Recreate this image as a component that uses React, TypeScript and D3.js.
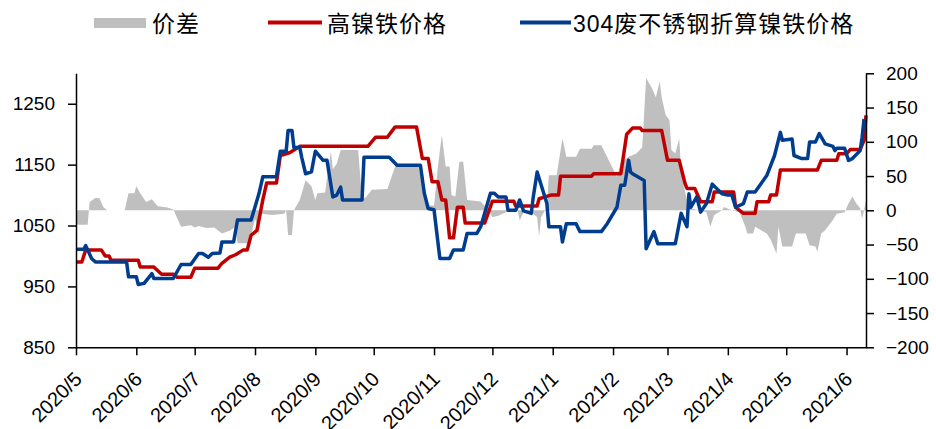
import { useEffect, useRef } from 'react';
import * as d3 from 'd3';

const width = 936;
const height = 429;

// month ticks on the x axis
const monthTicks = [
  '2020-05-01', '2020-06-01', '2020-07-01', '2020-08-01', '2020-09-01', '2020-10-01', '2020-11-01',
  '2020-12-01', '2021-01-01', '2021-02-01', '2021-03-01', '2021-04-01', '2021-05-01', '2021-06-01',
];
const leftTicks = [850, 950, 1050, 1150, 1250];
const rightTicks = [-200, -150, -100, -50, 0, 50, 100, 150, 200];

const legendLabels = ['价差', '高镍铁价格', '304废不锈钢折算镍铁价格'];

// 高镍铁价格 (left axis)
const nickelPigIron: [string, number][] = [
  ['2020-05-01', 990], ['2020-05-04', 990], ['2020-05-06', 1010], ['2020-05-14', 1010], ['2020-05-16', 1000],
  ['2020-05-18', 1000], ['2020-05-19', 993], ['2020-06-02', 993], ['2020-06-03', 982], ['2020-06-10', 982],
  ['2020-06-14', 970], ['2020-06-20', 970], ['2020-06-22', 965], ['2020-06-29', 965], ['2020-07-01', 980],
  ['2020-07-13', 980], ['2020-07-15', 988], ['2020-07-19', 998], ['2020-07-22', 1002], ['2020-07-26', 1010],
  ['2020-07-28', 1010], ['2020-07-30', 1034], ['2020-08-02', 1042], ['2020-08-05', 1092], ['2020-08-07', 1120],
  ['2020-08-12', 1120], ['2020-08-14', 1165], ['2020-08-19', 1170], ['2020-08-24', 1180], ['2020-09-28', 1180],
  ['2020-10-02', 1195], ['2020-10-08', 1195], ['2020-10-12', 1212], ['2020-10-23', 1212], ['2020-10-26', 1160],
  ['2020-10-29', 1160], ['2020-10-31', 1122], ['2020-11-03', 1122], ['2020-11-05', 1092], ['2020-11-07', 1092],
  ['2020-11-09', 1030], ['2020-11-11', 1030], ['2020-11-13', 1080], ['2020-11-16', 1080], ['2020-11-17', 1054],
  ['2020-11-27', 1054], ['2020-12-01', 1090], ['2020-12-12', 1090], ['2020-12-13', 1082], ['2020-12-24', 1082],
  ['2020-12-25', 1094], ['2020-12-31', 1100], ['2021-01-04', 1100], ['2021-01-05', 1131], ['2021-01-21', 1131],
  ['2021-01-22', 1135], ['2021-02-05', 1135], ['2021-02-08', 1200], ['2021-02-11', 1210], ['2021-02-15', 1210],
  ['2021-02-16', 1206], ['2021-02-26', 1206], ['2021-03-01', 1157], ['2021-03-07', 1157], ['2021-03-10', 1119],
  ['2021-03-11', 1111], ['2021-03-15', 1111], ['2021-03-18', 1089], ['2021-03-24', 1089], ['2021-03-25', 1105],
  ['2021-04-04', 1105], ['2021-04-05', 1080], ['2021-04-09', 1070], ['2021-04-15', 1070], ['2021-04-16', 1089],
  ['2021-04-22', 1089], ['2021-04-23', 1100], ['2021-04-26', 1100], ['2021-04-28', 1141], ['2021-05-17', 1141],
  ['2021-05-19', 1157], ['2021-05-27', 1157], ['2021-05-28', 1168], ['2021-06-01', 1168], ['2021-06-03', 1175],
  ['2021-06-08', 1175], ['2021-06-10', 1190], ['2021-06-11', 1231],
];

// 304废不锈钢折算镍铁价格 (left axis)
const scrapNickel: [string, number][] = [
  ['2020-05-01', 1011], ['2020-05-05', 1011], ['2020-05-06', 1017], ['2020-05-09', 996], ['2020-05-11', 990],
  ['2020-05-27', 990], ['2020-05-28', 966], ['2020-06-01', 966], ['2020-06-02', 953], ['2020-06-05', 955],
  ['2020-06-09', 971], ['2020-06-10', 963], ['2020-06-20', 963], ['2020-06-24', 986], ['2020-06-29', 986],
  ['2020-07-03', 1004], ['2020-07-05', 1004], ['2020-07-08', 998], ['2020-07-10', 1004], ['2020-07-14', 1005],
  ['2020-07-15', 1023], ['2020-07-21', 1023], ['2020-07-23', 1059], ['2020-07-30', 1059], ['2020-08-03', 1102],
  ['2020-08-05', 1130], ['2020-08-12', 1130], ['2020-08-14', 1172], ['2020-08-17', 1172], ['2020-08-18', 1206],
  ['2020-08-20', 1206], ['2020-08-21', 1178], ['2020-08-24', 1178], ['2020-08-25', 1162], ['2020-08-27', 1135],
  ['2020-08-30', 1138], ['2020-09-01', 1172], ['2020-09-05', 1157], ['2020-09-07', 1157], ['2020-09-10', 1097],
  ['2020-09-12', 1100], ['2020-09-14', 1113], ['2020-09-15', 1092], ['2020-09-25', 1092], ['2020-09-26', 1162],
  ['2020-10-09', 1162], ['2020-10-13', 1149], ['2020-10-25', 1149], ['2020-10-27', 1103], ['2020-10-29', 1078],
  ['2020-11-01', 1076], ['2020-11-04', 996], ['2020-11-09', 996], ['2020-11-11', 1010], ['2020-11-16', 1010],
  ['2020-11-18', 1037], ['2020-11-23', 1037], ['2020-11-25', 1048], ['2020-11-30', 1103], ['2020-12-02', 1103],
  ['2020-12-04', 1097], ['2020-12-08', 1097], ['2020-12-09', 1075], ['2020-12-13', 1075], ['2020-12-15', 1092],
  ['2020-12-17', 1074], ['2020-12-21', 1070], ['2020-12-22', 1097], ['2020-12-24', 1138], ['2020-12-29', 1086],
  ['2020-12-30', 1048], ['2021-01-05', 1048], ['2021-01-06', 1023], ['2021-01-08', 1053], ['2021-01-13', 1053],
  ['2021-01-15', 1040], ['2021-01-26', 1040], ['2021-01-29', 1053], ['2021-02-03', 1080], ['2021-02-05', 1116],
  ['2021-02-07', 1116], ['2021-02-09', 1157], ['2021-02-10', 1138], ['2021-02-11', 1135], ['2021-02-17', 1124],
  ['2021-02-18', 1012], ['2021-02-22', 1040], ['2021-02-24', 1020], ['2021-03-05', 1020], ['2021-03-08', 1070],
  ['2021-03-11', 1048], ['2021-03-12', 1102], ['2021-03-13', 1080], ['2021-03-16', 1097], ['2021-03-18', 1072],
  ['2021-03-21', 1086], ['2021-03-24', 1118], ['2021-03-29', 1102], ['2021-04-01', 1100], ['2021-04-03', 1100],
  ['2021-04-05', 1080], ['2021-04-09', 1086], ['2021-04-11', 1105], ['2021-04-15', 1105], ['2021-04-21', 1132],
  ['2021-04-25', 1165], ['2021-04-28', 1203], ['2021-04-29', 1190], ['2021-05-04', 1192], ['2021-05-05', 1165],
  ['2021-05-09', 1160], ['2021-05-12', 1160], ['2021-05-13', 1187], ['2021-05-16', 1187], ['2021-05-18', 1201],
  ['2021-05-20', 1190], ['2021-05-21', 1184], ['2021-05-25', 1180], ['2021-05-26', 1173], ['2021-05-27', 1177],
  ['2021-05-31', 1177], ['2021-06-02', 1157], ['2021-06-04', 1160], ['2021-06-08', 1173], ['2021-06-09', 1195],
  ['2021-06-10', 1225],
];

// 价差 (right axis)
const spread: [string, number][] = [
  ['2020-05-01', -21], ['2020-05-07', -21], ['2020-05-08', 12], ['2020-05-11', 18], ['2020-05-13', 18],
  ['2020-05-15', 5], ['2020-05-17', 0], ['2020-05-26', 0], ['2020-05-28', 25], ['2020-05-31', 25],
  ['2020-06-01', 35], ['2020-06-03', 25], ['2020-06-06', 12], ['2020-06-09', 16], ['2020-06-12', 6],
  ['2020-06-17', 4], ['2020-06-20', 1], ['2020-06-24', -24], ['2020-06-29', -22], ['2020-07-01', -25],
  ['2020-07-03', -23], ['2020-07-07', -26], ['2020-07-11', -25], ['2020-07-15', -34], ['2020-07-19', -30],
  ['2020-07-22', -24], ['2020-07-23', -48], ['2020-07-29', -48], ['2020-08-01', -12], ['2020-08-03', -35],
  ['2020-08-04', -5], ['2020-08-10', -7], ['2020-08-16', -5], ['2020-08-17', 0], ['2020-08-18', -36],
  ['2020-08-20', -36], ['2020-08-21', 0], ['2020-08-24', 15], ['2020-08-27', 44], ['2020-08-30', 35],
  ['2020-09-01', 15], ['2020-09-02', 25], ['2020-09-06', 26], ['2020-09-09', 86], ['2020-09-10', 60],
  ['2020-09-12', 68], ['2020-09-14', 88], ['2020-09-23', 88], ['2020-09-25', 17], ['2020-09-27', 19],
  ['2020-09-30', 30], ['2020-10-08', 31], ['2020-10-12', 64], ['2020-10-24', 64], ['2020-10-27', 15],
  ['2020-10-29', 7], ['2020-11-01', 7], ['2020-11-03', 64], ['2020-11-05', 110], ['2020-11-07', 64],
  ['2020-11-09', 64], ['2020-11-10', 22], ['2020-11-12', 20], ['2020-11-14', 71], ['2020-11-16', 71],
  ['2020-11-18', 15], ['2020-11-25', 13], ['2020-11-29', 0], ['2020-12-01', -10], ['2020-12-04', -8],
  ['2020-12-08', -3], ['2020-12-14', 0], ['2020-12-15', -15], ['2020-12-17', -3], ['2020-12-22', -5],
  ['2020-12-24', -10], ['2020-12-25', -38], ['2020-12-26', -10], ['2020-12-29', 5], ['2020-12-30', 51],
  ['2021-01-03', 51], ['2021-01-06', 105], ['2021-01-08', 78], ['2021-01-13', 78], ['2021-01-15', 90],
  ['2021-01-21', 90], ['2021-01-22', 95], ['2021-01-26', 95], ['2021-02-03', 49], ['2021-02-05', 70],
  ['2021-02-09', 78], ['2021-02-13', 83], ['2021-02-16', 92], ['2021-02-18', 193], ['2021-02-21', 178],
  ['2021-02-23', 165], ['2021-02-25', 188], ['2021-02-26', 165], ['2021-02-28', 139], ['2021-03-02', 132],
  ['2021-03-03', 88], ['2021-03-05', 83], ['2021-03-07', 105], ['2021-03-08', 60], ['2021-03-09', 40],
  ['2021-03-11', 15], ['2021-03-13', 3], ['2021-03-17', 0], ['2021-03-21', -3], ['2021-03-23', -24],
  ['2021-03-25', -7], ['2021-03-29', 0], ['2021-03-30', 5], ['2021-04-03', 0], ['2021-04-07', -3],
  ['2021-04-10', -24], ['2021-04-11', -34], ['2021-04-14', -34], ['2021-04-15', -24], ['2021-04-21', -34],
  ['2021-04-23', -43], ['2021-04-26', -63], ['2021-04-27', -24], ['2021-04-29', -53], ['2021-05-04', -53],
  ['2021-05-06', -34], ['2021-05-11', -34], ['2021-05-13', -51], ['2021-05-16', -53], ['2021-05-17', -60],
  ['2021-05-19', -34], ['2021-05-21', -29], ['2021-05-25', -14], ['2021-05-27', -5], ['2021-05-31', -3],
  ['2021-06-02', 10], ['2021-06-04', 20], ['2021-06-06', 10], ['2021-06-08', 3], ['2021-06-09', -12],
  ['2021-06-10', 0], ['2021-06-11', 15],
];

const FONT = '"Liberation Sans", Arial, "Noto Sans CJK SC", sans-serif';
const RED = '#C00000';
const BLUE = '#003D8F';
const GRAY = '#BFBFBF';

export default function App() {
  const svgRef = useRef<SVGSVGElement>(null);

  useEffect(() => {
    if (!svgRef.current) return;
    const svg = d3.select(svgRef.current);
    svg.selectAll('*').remove();

    const parse = d3.timeParse('%Y-%m-%d');
    const plot = { left: 76, right: 866, top: 73.3, bottom: 347.3 };

    const x = d3.scaleTime()
      .domain([parse('2020-05-01')!, parse('2021-06-11')!])
      .range([plot.left, plot.right]);
    const yLeft = d3.scaleLinear().domain([850, 1300]).range([plot.bottom, plot.top]);
    const yRight = d3.scaleLinear().domain([-200, 200]).range([plot.bottom, plot.top]);

    // spread area, drawn first so the lines sit on top
    const area = d3.area<[string, number]>()
      .x(d => x(parse(d[0])!))
      .y0(yRight(0))
      .y1(d => yRight(d[1]));
    svg.append('path')
      .datum(spread)
      .attr('fill', GRAY)
      .attr('d', area);

    const line = d3.line<[string, number]>()
      .x(d => x(parse(d[0])!))
      .y(d => yLeft(d[1]));

    [[nickelPigIron, RED], [scrapNickel, BLUE]].forEach(([data, color]) => {
      svg.append('path')
        .datum(data as [string, number][])
        .attr('fill', 'none')
        .attr('stroke', color as string)
        .attr('stroke-width', 3.5)
        .attr('stroke-linejoin', 'round')
        .attr('d', line);
    });

    const styleAxis = (g: d3.Selection<SVGGElement, unknown, null, undefined>) => {
      g.select('.domain').attr('stroke', '#000').attr('stroke-width', 1.5);
      g.selectAll('.tick line').attr('stroke', '#000').attr('stroke-width', 1.5);
      g.selectAll('.tick text')
        .attr('fill', '#000')
        .style('font-family', FONT)
        .style('font-size', '19px');
    };

    // Left axis
    svg.append('g')
      .attr('transform', `translate(${plot.left},0)`)
      .call(d3.axisLeft(yLeft).tickValues(leftTicks).tickFormat(d3.format('d'))
        .tickSize(8).tickSizeOuter(0).tickPadding(13))
      .call(styleAxis);

    // Right axis
    svg.append('g')
      .attr('transform', `translate(${plot.right},0)`)
      .call(d3.axisRight(yRight).tickValues(rightTicks).tickFormat(d3.format('d'))
        .tickSize(8).tickSizeOuter(0).tickPadding(12))
      .call(styleAxis);

    // Bottom axis, labels rotated by hand
    const monthDates = monthTicks.map(d => parse(d)!);
    svg.append('g')
      .attr('transform', `translate(0,${plot.bottom})`)
      .call(d3.axisBottom(x).tickValues(monthDates).tickSize(8).tickSizeOuter(0).tickFormat(() => ''))
      .call(styleAxis);

    const fmt = d3.timeFormat('%Y/%-m');
    svg.append('g')
      .selectAll('text')
      .data(monthDates)
      .enter().append('text')
      .attr('transform', d => `translate(${x(d) + 7},${plot.bottom + 33}) rotate(-45)`)
      .attr('text-anchor', 'end')
      .style('font-family', FONT)
      .style('font-size', '20px')
      .text(d => fmt(d));

    // Legend
    const legend = svg.append('g').style('font-family', FONT).style('font-size', '23px');
    legend.append('rect')
      .attr('x', 94).attr('y', 18).attr('width', 52).attr('height', 10)
      .attr('fill', GRAY);
    legend.append('text').attr('x', 152).attr('y', 31.5).style('letter-spacing', '1px').text(legendLabels[0]);

    legend.append('line')
      .attr('x1', 268).attr('x2', 322).attr('y1', 22.5).attr('y2', 22.5)
      .attr('stroke', RED).attr('stroke-width', 4);
    legend.append('text').attr('x', 327).attr('y', 31.5).style('letter-spacing', '1px').text(legendLabels[1]);

    legend.append('line')
      .attr('x1', 520).attr('x2', 571).attr('y1', 22.5).attr('y2', 22.5)
      .attr('stroke', BLUE).attr('stroke-width', 4);
    legend.append('text').attr('x', 573).attr('y', 31.5).style('letter-spacing', '1px').text(legendLabels[2]);
  }, []);

  return (
    <svg
      ref={svgRef}
      width={width}
      height={height}
      style={{ position: 'absolute', left: 0, top: 0, background: '#fff' }}
    />
  );
}
